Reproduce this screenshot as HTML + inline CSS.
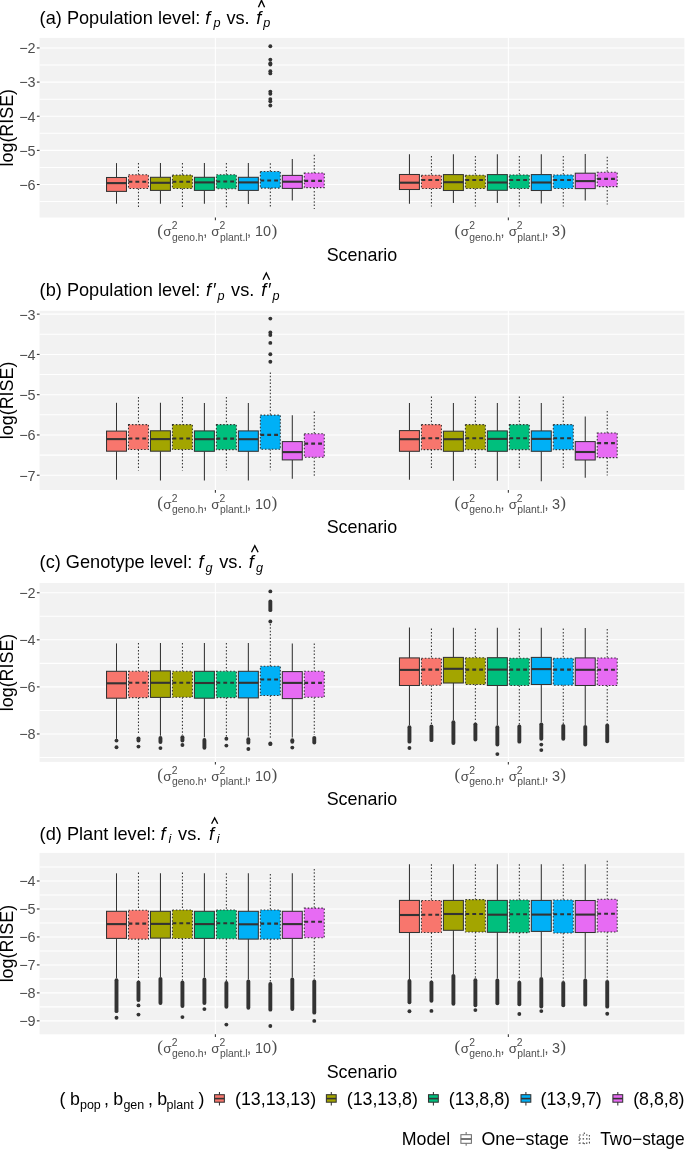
<!DOCTYPE html>
<html><head><meta charset="utf-8"><title>RISE boxplots</title>
<style>
html,body{margin:0;padding:0;background:#fff;}
body{width:685px;height:1149px;overflow:hidden;font-family:"Liberation Sans", sans-serif;}
svg{display:block;will-change:transform;}
</style></head>
<body>
<svg width="685" height="1149" viewBox="0 0 685 1149">
<rect x="0" y="0" width="685" height="1149" fill="#fff"/>
<g font-family="Liberation Sans, sans-serif" fill="#000">
<text x="39.6" y="23.85" font-size="18.2">(a) Population level:</text>
<text x="205.15" y="23.85" font-size="18.2" font-style="italic">f</text>
<text x="213.45" y="27.45" font-size="12.7" font-style="italic">p</text>
<text x="226.42" y="23.85" font-size="18.2">vs.</text>
<text x="256.25" y="23.85" font-size="18.2" font-style="italic">f</text>
<text x="263.15" y="27.45" font-size="12.7" font-style="italic">p</text>
<polyline points="258.4,7.25 261.5,0.35 264.6,7.25" fill="none" stroke="#000" stroke-width="1.35"/>
</g>
<rect x="39.55" y="37.9" width="644.85" height="179.6" fill="#F2F2F2"/>
<line x1="39.55" y1="65.02" x2="684.4" y2="65.02" stroke="#fff" stroke-width="1.07"/>
<line x1="39.55" y1="99.16" x2="684.4" y2="99.16" stroke="#fff" stroke-width="1.07"/>
<line x1="39.55" y1="133.3" x2="684.4" y2="133.3" stroke="#fff" stroke-width="1.07"/>
<line x1="39.55" y1="167.44" x2="684.4" y2="167.44" stroke="#fff" stroke-width="1.07"/>
<line x1="39.55" y1="201.58" x2="684.4" y2="201.58" stroke="#fff" stroke-width="1.07"/>
<line x1="39.55" y1="47.95" x2="684.4" y2="47.95" stroke="#fff" stroke-width="1.07"/>
<line x1="39.55" y1="82.09" x2="684.4" y2="82.09" stroke="#fff" stroke-width="1.07"/>
<line x1="39.55" y1="116.23" x2="684.4" y2="116.23" stroke="#fff" stroke-width="1.07"/>
<line x1="39.55" y1="150.37" x2="684.4" y2="150.37" stroke="#fff" stroke-width="1.07"/>
<line x1="39.55" y1="184.51" x2="684.4" y2="184.51" stroke="#fff" stroke-width="1.07"/>
<line x1="215.39" y1="37.9" x2="215.39" y2="217.5" stroke="#fff" stroke-width="1.07"/>
<line x1="508.34" y1="37.9" x2="508.34" y2="217.5" stroke="#fff" stroke-width="1.07"/>
<line x1="116.5" y1="163.1" x2="116.5" y2="177.5" stroke="#333333" stroke-width="1.05"/>
<line x1="116.5" y1="191.4" x2="116.5" y2="203.7" stroke="#333333" stroke-width="1.05"/>
<rect x="106.53" y="177.5" width="19.95" height="13.9" fill="#F8766D" stroke="#333333" stroke-width="1.05"/>
<line x1="106.53" y1="183.1" x2="126.47" y2="183.1" stroke="#333333" stroke-width="2.1"/>
<line x1="138.47" y1="163.1" x2="138.47" y2="174.8" stroke="#333333" stroke-width="1.05" stroke-dasharray="1.5 1.9"/>
<line x1="138.47" y1="188.4" x2="138.47" y2="207.2" stroke="#333333" stroke-width="1.05" stroke-dasharray="1.5 1.9"/>
<rect x="128.5" y="174.8" width="19.95" height="13.6" fill="#F8766D" stroke="#333333" stroke-width="1.05" stroke-dasharray="1.5 1.9"/>
<line x1="128.5" y1="181.8" x2="148.45" y2="181.8" stroke="#333333" stroke-width="2.1" stroke-dasharray="3.85 3.05"/>
<line x1="160.45" y1="163.1" x2="160.45" y2="177.3" stroke="#333333" stroke-width="1.05"/>
<line x1="160.45" y1="190.4" x2="160.45" y2="203.7" stroke="#333333" stroke-width="1.05"/>
<rect x="150.47" y="177.3" width="19.95" height="13.1" fill="#A3A500" stroke="#333333" stroke-width="1.05"/>
<line x1="150.47" y1="182.8" x2="170.42" y2="182.8" stroke="#333333" stroke-width="2.1"/>
<line x1="182.43" y1="163.1" x2="182.43" y2="175.1" stroke="#333333" stroke-width="1.05" stroke-dasharray="1.5 1.9"/>
<line x1="182.43" y1="188.4" x2="182.43" y2="207.2" stroke="#333333" stroke-width="1.05" stroke-dasharray="1.5 1.9"/>
<rect x="172.45" y="175.1" width="19.95" height="13.3" fill="#A3A500" stroke="#333333" stroke-width="1.05" stroke-dasharray="1.5 1.9"/>
<line x1="172.45" y1="181.8" x2="192.4" y2="181.8" stroke="#333333" stroke-width="2.1" stroke-dasharray="3.85 3.05"/>
<line x1="204.4" y1="163.1" x2="204.4" y2="177.3" stroke="#333333" stroke-width="1.05"/>
<line x1="204.4" y1="190.4" x2="204.4" y2="203.7" stroke="#333333" stroke-width="1.05"/>
<rect x="194.43" y="177.3" width="19.95" height="13.1" fill="#00BF7D" stroke="#333333" stroke-width="1.05"/>
<line x1="194.43" y1="182.4" x2="214.38" y2="182.4" stroke="#333333" stroke-width="2.1"/>
<line x1="226.38" y1="163.1" x2="226.38" y2="174.8" stroke="#333333" stroke-width="1.05" stroke-dasharray="1.5 1.9"/>
<line x1="226.38" y1="188.7" x2="226.38" y2="207.2" stroke="#333333" stroke-width="1.05" stroke-dasharray="1.5 1.9"/>
<rect x="216.4" y="174.8" width="19.95" height="13.9" fill="#00BF7D" stroke="#333333" stroke-width="1.05" stroke-dasharray="1.5 1.9"/>
<line x1="216.4" y1="181.5" x2="236.35" y2="181.5" stroke="#333333" stroke-width="2.1" stroke-dasharray="3.85 3.05"/>
<line x1="248.35" y1="163.1" x2="248.35" y2="177.3" stroke="#333333" stroke-width="1.05"/>
<line x1="248.35" y1="190.4" x2="248.35" y2="204" stroke="#333333" stroke-width="1.05"/>
<rect x="238.38" y="177.3" width="19.95" height="13.1" fill="#00B0F6" stroke="#333333" stroke-width="1.05"/>
<line x1="238.38" y1="182.4" x2="258.33" y2="182.4" stroke="#333333" stroke-width="2.1"/>
<line x1="270.33" y1="163.3" x2="270.33" y2="171.5" stroke="#333333" stroke-width="1.05" stroke-dasharray="1.5 1.9"/>
<line x1="270.33" y1="188.1" x2="270.33" y2="206.9" stroke="#333333" stroke-width="1.05" stroke-dasharray="1.5 1.9"/>
<rect x="260.35" y="171.5" width="19.95" height="16.6" fill="#00B0F6" stroke="#333333" stroke-width="1.05" stroke-dasharray="1.5 1.9"/>
<line x1="260.35" y1="180.5" x2="280.3" y2="180.5" stroke="#333333" stroke-width="2.1" stroke-dasharray="3.85 3.05"/>
<circle cx="270.33" cy="46.3" r="1.95" fill="#333333"/>
<circle cx="270.33" cy="59.6" r="1.95" fill="#333333"/>
<circle cx="270.33" cy="63.2" r="1.95" fill="#333333"/>
<circle cx="270.33" cy="64.5" r="1.95" fill="#333333"/>
<circle cx="270.33" cy="71.2" r="1.95" fill="#333333"/>
<circle cx="270.33" cy="73.4" r="1.95" fill="#333333"/>
<circle cx="270.33" cy="91.6" r="1.95" fill="#333333"/>
<circle cx="270.33" cy="93.8" r="1.95" fill="#333333"/>
<circle cx="270.33" cy="99.1" r="1.95" fill="#333333"/>
<circle cx="270.33" cy="101.3" r="1.95" fill="#333333"/>
<circle cx="270.33" cy="105.5" r="1.95" fill="#333333"/>
<line x1="292.3" y1="159.1" x2="292.3" y2="175.4" stroke="#333333" stroke-width="1.05"/>
<line x1="292.3" y1="188.4" x2="292.3" y2="200.5" stroke="#333333" stroke-width="1.05"/>
<rect x="282.32" y="175.4" width="19.95" height="13" fill="#E76BF3" stroke="#333333" stroke-width="1.05"/>
<line x1="282.32" y1="181.7" x2="302.28" y2="181.7" stroke="#333333" stroke-width="2.1"/>
<line x1="314.27" y1="154.7" x2="314.27" y2="173" stroke="#333333" stroke-width="1.05" stroke-dasharray="1.5 1.9"/>
<line x1="314.27" y1="187.6" x2="314.27" y2="209.1" stroke="#333333" stroke-width="1.05" stroke-dasharray="1.5 1.9"/>
<rect x="304.3" y="173" width="19.95" height="14.6" fill="#E76BF3" stroke="#333333" stroke-width="1.05" stroke-dasharray="1.5 1.9"/>
<line x1="304.3" y1="180.9" x2="324.25" y2="180.9" stroke="#333333" stroke-width="2.1" stroke-dasharray="3.85 3.05"/>
<line x1="409.45" y1="154.2" x2="409.45" y2="174.5" stroke="#333333" stroke-width="1.05"/>
<line x1="409.45" y1="189.5" x2="409.45" y2="203.8" stroke="#333333" stroke-width="1.05"/>
<rect x="399.47" y="174.5" width="19.95" height="15" fill="#F8766D" stroke="#333333" stroke-width="1.05"/>
<line x1="399.47" y1="182.7" x2="419.43" y2="182.7" stroke="#333333" stroke-width="2.1"/>
<line x1="431.43" y1="155.9" x2="431.43" y2="175.2" stroke="#333333" stroke-width="1.05" stroke-dasharray="1.5 1.9"/>
<line x1="431.43" y1="188.5" x2="431.43" y2="206.6" stroke="#333333" stroke-width="1.05" stroke-dasharray="1.5 1.9"/>
<rect x="421.45" y="175.2" width="19.95" height="13.3" fill="#F8766D" stroke="#333333" stroke-width="1.05" stroke-dasharray="1.5 1.9"/>
<line x1="421.45" y1="180" x2="441.4" y2="180" stroke="#333333" stroke-width="2.1" stroke-dasharray="3.85 3.05"/>
<line x1="453.4" y1="154.2" x2="453.4" y2="174.6" stroke="#333333" stroke-width="1.05"/>
<line x1="453.4" y1="190.5" x2="453.4" y2="203" stroke="#333333" stroke-width="1.05"/>
<rect x="443.42" y="174.6" width="19.95" height="15.9" fill="#A3A500" stroke="#333333" stroke-width="1.05"/>
<line x1="443.42" y1="182.2" x2="463.38" y2="182.2" stroke="#333333" stroke-width="2.1"/>
<line x1="475.38" y1="156" x2="475.38" y2="175.2" stroke="#333333" stroke-width="1.05" stroke-dasharray="1.5 1.9"/>
<line x1="475.38" y1="188.5" x2="475.38" y2="206.6" stroke="#333333" stroke-width="1.05" stroke-dasharray="1.5 1.9"/>
<rect x="465.4" y="175.2" width="19.95" height="13.3" fill="#A3A500" stroke="#333333" stroke-width="1.05" stroke-dasharray="1.5 1.9"/>
<line x1="465.4" y1="180" x2="485.35" y2="180" stroke="#333333" stroke-width="2.1" stroke-dasharray="3.85 3.05"/>
<line x1="497.35" y1="154.2" x2="497.35" y2="174.6" stroke="#333333" stroke-width="1.05"/>
<line x1="497.35" y1="190.3" x2="497.35" y2="203" stroke="#333333" stroke-width="1.05"/>
<rect x="487.38" y="174.6" width="19.95" height="15.7" fill="#00BF7D" stroke="#333333" stroke-width="1.05"/>
<line x1="487.38" y1="182.5" x2="507.33" y2="182.5" stroke="#333333" stroke-width="2.1"/>
<line x1="519.33" y1="156" x2="519.33" y2="174.9" stroke="#333333" stroke-width="1.05" stroke-dasharray="1.5 1.9"/>
<line x1="519.33" y1="188.5" x2="519.33" y2="206.6" stroke="#333333" stroke-width="1.05" stroke-dasharray="1.5 1.9"/>
<rect x="509.35" y="174.9" width="19.95" height="13.6" fill="#00BF7D" stroke="#333333" stroke-width="1.05" stroke-dasharray="1.5 1.9"/>
<line x1="509.35" y1="180" x2="529.3" y2="180" stroke="#333333" stroke-width="2.1" stroke-dasharray="3.85 3.05"/>
<line x1="541.3" y1="154.2" x2="541.3" y2="174.6" stroke="#333333" stroke-width="1.05"/>
<line x1="541.3" y1="190.5" x2="541.3" y2="203.4" stroke="#333333" stroke-width="1.05"/>
<rect x="531.32" y="174.6" width="19.95" height="15.9" fill="#00B0F6" stroke="#333333" stroke-width="1.05"/>
<line x1="531.32" y1="182.5" x2="551.27" y2="182.5" stroke="#333333" stroke-width="2.1"/>
<line x1="563.27" y1="156" x2="563.27" y2="174.9" stroke="#333333" stroke-width="1.05" stroke-dasharray="1.5 1.9"/>
<line x1="563.27" y1="188.5" x2="563.27" y2="206.6" stroke="#333333" stroke-width="1.05" stroke-dasharray="1.5 1.9"/>
<rect x="553.3" y="174.9" width="19.95" height="13.6" fill="#00B0F6" stroke="#333333" stroke-width="1.05" stroke-dasharray="1.5 1.9"/>
<line x1="553.3" y1="180" x2="573.25" y2="180" stroke="#333333" stroke-width="2.1" stroke-dasharray="3.85 3.05"/>
<line x1="585.25" y1="154.1" x2="585.25" y2="173.2" stroke="#333333" stroke-width="1.05"/>
<line x1="585.25" y1="188.6" x2="585.25" y2="200.5" stroke="#333333" stroke-width="1.05"/>
<rect x="575.27" y="173.2" width="19.95" height="15.4" fill="#E76BF3" stroke="#333333" stroke-width="1.05"/>
<line x1="575.27" y1="181.1" x2="595.23" y2="181.1" stroke="#333333" stroke-width="2.1"/>
<line x1="607.23" y1="156.7" x2="607.23" y2="172.3" stroke="#333333" stroke-width="1.05" stroke-dasharray="1.5 1.9"/>
<line x1="607.23" y1="186.6" x2="607.23" y2="204.6" stroke="#333333" stroke-width="1.05" stroke-dasharray="1.5 1.9"/>
<rect x="597.25" y="172.3" width="19.95" height="14.3" fill="#E76BF3" stroke="#333333" stroke-width="1.05" stroke-dasharray="1.5 1.9"/>
<line x1="597.25" y1="178.9" x2="617.2" y2="178.9" stroke="#333333" stroke-width="2.1" stroke-dasharray="3.85 3.05"/>
<line x1="36.9" y1="47.95" x2="39.55" y2="47.95" stroke="#333333" stroke-width="1.07"/>
<text x="35.6" y="53.35" text-anchor="end" font-family="Liberation Sans, sans-serif" font-size="14.4" fill="#4D4D4D">−2</text>
<line x1="36.9" y1="82.09" x2="39.55" y2="82.09" stroke="#333333" stroke-width="1.07"/>
<text x="35.6" y="87.49" text-anchor="end" font-family="Liberation Sans, sans-serif" font-size="14.4" fill="#4D4D4D">−3</text>
<line x1="36.9" y1="116.23" x2="39.55" y2="116.23" stroke="#333333" stroke-width="1.07"/>
<text x="35.6" y="121.63" text-anchor="end" font-family="Liberation Sans, sans-serif" font-size="14.4" fill="#4D4D4D">−4</text>
<line x1="36.9" y1="150.37" x2="39.55" y2="150.37" stroke="#333333" stroke-width="1.07"/>
<text x="35.6" y="155.77" text-anchor="end" font-family="Liberation Sans, sans-serif" font-size="14.4" fill="#4D4D4D">−5</text>
<line x1="36.9" y1="184.51" x2="39.55" y2="184.51" stroke="#333333" stroke-width="1.07"/>
<text x="35.6" y="189.91" text-anchor="end" font-family="Liberation Sans, sans-serif" font-size="14.4" fill="#4D4D4D">−6</text>
<line x1="215.39" y1="217.5" x2="215.39" y2="220.2" stroke="#333333" stroke-width="1.07"/>
<line x1="508.34" y1="217.5" x2="508.34" y2="220.2" stroke="#333333" stroke-width="1.07"/>
<g fill="#4D4D4D" font-family="Liberation Sans, sans-serif">
<text x="157.3" y="235.5" font-family="Liberation Serif, serif" font-size="17.2">(</text>
<text x="163.35" y="236.2" font-size="13.4">σ</text>
<text x="171.87" y="229.2" font-size="10.35">2</text>
<text x="171.97" y="240.5" font-size="10.35">geno.h</text>
<text x="203.19" y="236" font-size="14.4">,</text>
<text x="211.35" y="236.2" font-size="13.4">σ</text>
<text x="219.47" y="229.2" font-size="10.35">2</text>
<text x="219.97" y="240.5" font-size="10.35">plant.l</text>
<text x="247.09" y="236" font-size="14.4">,</text>
<text x="254.94" y="236.2" font-size="14.4">10</text>
<text x="271.47" y="235.5" font-family="Liberation Serif, serif" font-size="17.2">)</text>
</g>
<g fill="#4D4D4D" font-family="Liberation Sans, sans-serif">
<text x="454.6" y="235.5" font-family="Liberation Serif, serif" font-size="17.2">(</text>
<text x="460.65" y="236.2" font-size="13.4">σ</text>
<text x="469.17" y="229.2" font-size="10.35">2</text>
<text x="469.27" y="240.5" font-size="10.35">geno.h</text>
<text x="500.49" y="236" font-size="14.4">,</text>
<text x="508.65" y="236.2" font-size="13.4">σ</text>
<text x="516.77" y="229.2" font-size="10.35">2</text>
<text x="517.27" y="240.5" font-size="10.35">plant.l</text>
<text x="544.39" y="236" font-size="14.4">,</text>
<text x="552.06" y="236.2" font-size="14.4">3</text>
<text x="560.32" y="235.5" font-family="Liberation Serif, serif" font-size="17.2">)</text>
</g>
<text x="361.97" y="260.75" text-anchor="middle" font-family="Liberation Sans, sans-serif" font-size="17.9" fill="#000">Scenario</text>
<text transform="translate(13.1,127.7) rotate(-90)" x="0" y="0" text-anchor="middle" font-family="Liberation Sans, sans-serif" font-size="17.9" fill="#000">log(RISE)</text>
<g font-family="Liberation Sans, sans-serif" fill="#000">
<text x="39.6" y="295.6" font-size="18.2">(b) Population level:</text>
<text x="206.05" y="295.6" font-size="18.2" font-style="italic">f</text>
<text x="212.16" y="295.9" font-size="18.2" font-style="italic">′</text>
<text x="217.55" y="299.9" font-size="12.7" font-style="italic">p</text>
<text x="231.12" y="295.6" font-size="18.2">vs.</text>
<text x="261.25" y="295.6" font-size="18.2" font-style="italic">f</text>
<text x="267.36" y="295.9" font-size="18.2" font-style="italic">′</text>
<text x="272.55" y="299.9" font-size="12.7" font-style="italic">p</text>
<polyline points="263,279.7 266.3,273 269.6,279.7" fill="none" stroke="#000" stroke-width="1.35"/>
</g>
<rect x="39.55" y="310.8" width="644.85" height="179.2" fill="#F2F2F2"/>
<line x1="39.55" y1="334.27" x2="684.4" y2="334.27" stroke="#fff" stroke-width="1.07"/>
<line x1="39.55" y1="374.54" x2="684.4" y2="374.54" stroke="#fff" stroke-width="1.07"/>
<line x1="39.55" y1="414.81" x2="684.4" y2="414.81" stroke="#fff" stroke-width="1.07"/>
<line x1="39.55" y1="455.09" x2="684.4" y2="455.09" stroke="#fff" stroke-width="1.07"/>
<line x1="39.55" y1="314.14" x2="684.4" y2="314.14" stroke="#fff" stroke-width="1.07"/>
<line x1="39.55" y1="354.41" x2="684.4" y2="354.41" stroke="#fff" stroke-width="1.07"/>
<line x1="39.55" y1="394.68" x2="684.4" y2="394.68" stroke="#fff" stroke-width="1.07"/>
<line x1="39.55" y1="434.95" x2="684.4" y2="434.95" stroke="#fff" stroke-width="1.07"/>
<line x1="39.55" y1="475.22" x2="684.4" y2="475.22" stroke="#fff" stroke-width="1.07"/>
<line x1="215.39" y1="310.8" x2="215.39" y2="490.0" stroke="#fff" stroke-width="1.07"/>
<line x1="508.34" y1="310.8" x2="508.34" y2="490.0" stroke="#fff" stroke-width="1.07"/>
<line x1="116.5" y1="402.8" x2="116.5" y2="431.1" stroke="#333333" stroke-width="1.05"/>
<line x1="116.5" y1="451.2" x2="116.5" y2="479.7" stroke="#333333" stroke-width="1.05"/>
<rect x="106.53" y="431.1" width="19.95" height="20.1" fill="#F8766D" stroke="#333333" stroke-width="1.05"/>
<line x1="106.53" y1="439.1" x2="126.47" y2="439.1" stroke="#333333" stroke-width="2.1"/>
<line x1="138.47" y1="396.9" x2="138.47" y2="424.6" stroke="#333333" stroke-width="1.05" stroke-dasharray="1.5 1.9"/>
<line x1="138.47" y1="449.5" x2="138.47" y2="470.6" stroke="#333333" stroke-width="1.05" stroke-dasharray="1.5 1.9"/>
<rect x="128.5" y="424.6" width="19.95" height="24.9" fill="#F8766D" stroke="#333333" stroke-width="1.05" stroke-dasharray="1.5 1.9"/>
<line x1="128.5" y1="438.5" x2="148.45" y2="438.5" stroke="#333333" stroke-width="2.1" stroke-dasharray="3.85 3.05"/>
<line x1="160.45" y1="402.8" x2="160.45" y2="430.8" stroke="#333333" stroke-width="1.05"/>
<line x1="160.45" y1="451.2" x2="160.45" y2="480.4" stroke="#333333" stroke-width="1.05"/>
<rect x="150.47" y="430.8" width="19.95" height="20.4" fill="#A3A500" stroke="#333333" stroke-width="1.05"/>
<line x1="150.47" y1="439.1" x2="170.42" y2="439.1" stroke="#333333" stroke-width="2.1"/>
<line x1="182.43" y1="396.9" x2="182.43" y2="424.6" stroke="#333333" stroke-width="1.05" stroke-dasharray="1.5 1.9"/>
<line x1="182.43" y1="449.5" x2="182.43" y2="470.6" stroke="#333333" stroke-width="1.05" stroke-dasharray="1.5 1.9"/>
<rect x="172.45" y="424.6" width="19.95" height="24.9" fill="#A3A500" stroke="#333333" stroke-width="1.05" stroke-dasharray="1.5 1.9"/>
<line x1="172.45" y1="438.5" x2="192.4" y2="438.5" stroke="#333333" stroke-width="2.1" stroke-dasharray="3.85 3.05"/>
<line x1="204.4" y1="403.1" x2="204.4" y2="430.9" stroke="#333333" stroke-width="1.05"/>
<line x1="204.4" y1="451.3" x2="204.4" y2="480.5" stroke="#333333" stroke-width="1.05"/>
<rect x="194.43" y="430.9" width="19.95" height="20.4" fill="#00BF7D" stroke="#333333" stroke-width="1.05"/>
<line x1="194.43" y1="439.2" x2="214.38" y2="439.2" stroke="#333333" stroke-width="2.1"/>
<line x1="226.38" y1="397" x2="226.38" y2="424.6" stroke="#333333" stroke-width="1.05" stroke-dasharray="1.5 1.9"/>
<line x1="226.38" y1="449.6" x2="226.38" y2="470.3" stroke="#333333" stroke-width="1.05" stroke-dasharray="1.5 1.9"/>
<rect x="216.4" y="424.6" width="19.95" height="25" fill="#00BF7D" stroke="#333333" stroke-width="1.05" stroke-dasharray="1.5 1.9"/>
<line x1="216.4" y1="438.6" x2="236.35" y2="438.6" stroke="#333333" stroke-width="2.1" stroke-dasharray="3.85 3.05"/>
<line x1="248.35" y1="403.1" x2="248.35" y2="430.9" stroke="#333333" stroke-width="1.05"/>
<line x1="248.35" y1="451.3" x2="248.35" y2="480.5" stroke="#333333" stroke-width="1.05"/>
<rect x="238.38" y="430.9" width="19.95" height="20.4" fill="#00B0F6" stroke="#333333" stroke-width="1.05"/>
<line x1="238.38" y1="439.2" x2="258.33" y2="439.2" stroke="#333333" stroke-width="2.1"/>
<line x1="270.33" y1="372.4" x2="270.33" y2="415.1" stroke="#333333" stroke-width="1.05" stroke-dasharray="1.5 1.9"/>
<line x1="270.33" y1="449.3" x2="270.33" y2="470.2" stroke="#333333" stroke-width="1.05" stroke-dasharray="1.5 1.9"/>
<rect x="260.35" y="415.1" width="19.95" height="34.2" fill="#00B0F6" stroke="#333333" stroke-width="1.05" stroke-dasharray="1.5 1.9"/>
<line x1="260.35" y1="434.9" x2="280.3" y2="434.9" stroke="#333333" stroke-width="2.1" stroke-dasharray="3.85 3.05"/>
<circle cx="270.33" cy="318.6" r="1.95" fill="#333333"/>
<circle cx="270.33" cy="332.5" r="1.95" fill="#333333"/>
<circle cx="270.33" cy="335" r="1.95" fill="#333333"/>
<circle cx="270.33" cy="342.9" r="1.95" fill="#333333"/>
<circle cx="270.33" cy="354.2" r="1.95" fill="#333333"/>
<circle cx="270.33" cy="361.7" r="1.95" fill="#333333"/>
<line x1="292.3" y1="415.3" x2="292.3" y2="441.6" stroke="#333333" stroke-width="1.05"/>
<line x1="292.3" y1="459.9" x2="292.3" y2="478.7" stroke="#333333" stroke-width="1.05"/>
<rect x="282.32" y="441.6" width="19.95" height="18.3" fill="#E76BF3" stroke="#333333" stroke-width="1.05"/>
<line x1="282.32" y1="452.1" x2="302.28" y2="452.1" stroke="#333333" stroke-width="2.1"/>
<line x1="314.27" y1="411.5" x2="314.27" y2="433.8" stroke="#333333" stroke-width="1.05" stroke-dasharray="1.5 1.9"/>
<line x1="314.27" y1="457.3" x2="314.27" y2="475.8" stroke="#333333" stroke-width="1.05" stroke-dasharray="1.5 1.9"/>
<rect x="304.3" y="433.8" width="19.95" height="23.5" fill="#E76BF3" stroke="#333333" stroke-width="1.05" stroke-dasharray="1.5 1.9"/>
<line x1="304.3" y1="443.6" x2="324.25" y2="443.6" stroke="#333333" stroke-width="2.1" stroke-dasharray="3.85 3.05"/>
<line x1="409.45" y1="403.1" x2="409.45" y2="430.6" stroke="#333333" stroke-width="1.05"/>
<line x1="409.45" y1="451.3" x2="409.45" y2="479.8" stroke="#333333" stroke-width="1.05"/>
<rect x="399.47" y="430.6" width="19.95" height="20.7" fill="#F8766D" stroke="#333333" stroke-width="1.05"/>
<line x1="399.47" y1="439.2" x2="419.43" y2="439.2" stroke="#333333" stroke-width="2.1"/>
<line x1="431.43" y1="396.6" x2="431.43" y2="424.6" stroke="#333333" stroke-width="1.05" stroke-dasharray="1.5 1.9"/>
<line x1="431.43" y1="449.6" x2="431.43" y2="468.1" stroke="#333333" stroke-width="1.05" stroke-dasharray="1.5 1.9"/>
<rect x="421.45" y="424.6" width="19.95" height="25" fill="#F8766D" stroke="#333333" stroke-width="1.05" stroke-dasharray="1.5 1.9"/>
<line x1="421.45" y1="438.2" x2="441.4" y2="438.2" stroke="#333333" stroke-width="2.1" stroke-dasharray="3.85 3.05"/>
<line x1="453.4" y1="403.1" x2="453.4" y2="431.2" stroke="#333333" stroke-width="1.05"/>
<line x1="453.4" y1="451.3" x2="453.4" y2="480.8" stroke="#333333" stroke-width="1.05"/>
<rect x="443.42" y="431.2" width="19.95" height="20.1" fill="#A3A500" stroke="#333333" stroke-width="1.05"/>
<line x1="443.42" y1="439.2" x2="463.38" y2="439.2" stroke="#333333" stroke-width="2.1"/>
<line x1="475.38" y1="396.6" x2="475.38" y2="424.6" stroke="#333333" stroke-width="1.05" stroke-dasharray="1.5 1.9"/>
<line x1="475.38" y1="449.6" x2="475.38" y2="468.1" stroke="#333333" stroke-width="1.05" stroke-dasharray="1.5 1.9"/>
<rect x="465.4" y="424.6" width="19.95" height="25" fill="#A3A500" stroke="#333333" stroke-width="1.05" stroke-dasharray="1.5 1.9"/>
<line x1="465.4" y1="438.2" x2="485.35" y2="438.2" stroke="#333333" stroke-width="2.1" stroke-dasharray="3.85 3.05"/>
<line x1="497.35" y1="403.1" x2="497.35" y2="430.9" stroke="#333333" stroke-width="1.05"/>
<line x1="497.35" y1="451.3" x2="497.35" y2="480.8" stroke="#333333" stroke-width="1.05"/>
<rect x="487.38" y="430.9" width="19.95" height="20.4" fill="#00BF7D" stroke="#333333" stroke-width="1.05"/>
<line x1="487.38" y1="438.9" x2="507.33" y2="438.9" stroke="#333333" stroke-width="2.1"/>
<line x1="519.33" y1="396.6" x2="519.33" y2="424.6" stroke="#333333" stroke-width="1.05" stroke-dasharray="1.5 1.9"/>
<line x1="519.33" y1="449.6" x2="519.33" y2="468.1" stroke="#333333" stroke-width="1.05" stroke-dasharray="1.5 1.9"/>
<rect x="509.35" y="424.6" width="19.95" height="25" fill="#00BF7D" stroke="#333333" stroke-width="1.05" stroke-dasharray="1.5 1.9"/>
<line x1="509.35" y1="438.2" x2="529.3" y2="438.2" stroke="#333333" stroke-width="2.1" stroke-dasharray="3.85 3.05"/>
<line x1="541.3" y1="403.1" x2="541.3" y2="430.9" stroke="#333333" stroke-width="1.05"/>
<line x1="541.3" y1="451.3" x2="541.3" y2="481.2" stroke="#333333" stroke-width="1.05"/>
<rect x="531.32" y="430.9" width="19.95" height="20.4" fill="#00B0F6" stroke="#333333" stroke-width="1.05"/>
<line x1="531.32" y1="438.9" x2="551.27" y2="438.9" stroke="#333333" stroke-width="2.1"/>
<line x1="563.27" y1="396.6" x2="563.27" y2="424.6" stroke="#333333" stroke-width="1.05" stroke-dasharray="1.5 1.9"/>
<line x1="563.27" y1="449.6" x2="563.27" y2="468.1" stroke="#333333" stroke-width="1.05" stroke-dasharray="1.5 1.9"/>
<rect x="553.3" y="424.6" width="19.95" height="25" fill="#00B0F6" stroke="#333333" stroke-width="1.05" stroke-dasharray="1.5 1.9"/>
<line x1="553.3" y1="438.2" x2="573.25" y2="438.2" stroke="#333333" stroke-width="2.1" stroke-dasharray="3.85 3.05"/>
<line x1="585.25" y1="416.4" x2="585.25" y2="441.6" stroke="#333333" stroke-width="1.05"/>
<line x1="585.25" y1="460" x2="585.25" y2="477.7" stroke="#333333" stroke-width="1.05"/>
<rect x="575.27" y="441.6" width="19.95" height="18.4" fill="#E76BF3" stroke="#333333" stroke-width="1.05"/>
<line x1="575.27" y1="452" x2="595.23" y2="452" stroke="#333333" stroke-width="2.1"/>
<line x1="607.23" y1="411" x2="607.23" y2="432.9" stroke="#333333" stroke-width="1.05" stroke-dasharray="1.5 1.9"/>
<line x1="607.23" y1="457.6" x2="607.23" y2="475.6" stroke="#333333" stroke-width="1.05" stroke-dasharray="1.5 1.9"/>
<rect x="597.25" y="432.9" width="19.95" height="24.7" fill="#E76BF3" stroke="#333333" stroke-width="1.05" stroke-dasharray="1.5 1.9"/>
<line x1="597.25" y1="443.1" x2="617.2" y2="443.1" stroke="#333333" stroke-width="2.1" stroke-dasharray="3.85 3.05"/>
<line x1="36.9" y1="314.14" x2="39.55" y2="314.14" stroke="#333333" stroke-width="1.07"/>
<text x="35.6" y="319.54" text-anchor="end" font-family="Liberation Sans, sans-serif" font-size="14.4" fill="#4D4D4D">−3</text>
<line x1="36.9" y1="354.41" x2="39.55" y2="354.41" stroke="#333333" stroke-width="1.07"/>
<text x="35.6" y="359.81" text-anchor="end" font-family="Liberation Sans, sans-serif" font-size="14.4" fill="#4D4D4D">−4</text>
<line x1="36.9" y1="394.68" x2="39.55" y2="394.68" stroke="#333333" stroke-width="1.07"/>
<text x="35.6" y="400.08" text-anchor="end" font-family="Liberation Sans, sans-serif" font-size="14.4" fill="#4D4D4D">−5</text>
<line x1="36.9" y1="434.95" x2="39.55" y2="434.95" stroke="#333333" stroke-width="1.07"/>
<text x="35.6" y="440.35" text-anchor="end" font-family="Liberation Sans, sans-serif" font-size="14.4" fill="#4D4D4D">−6</text>
<line x1="36.9" y1="475.22" x2="39.55" y2="475.22" stroke="#333333" stroke-width="1.07"/>
<text x="35.6" y="480.62" text-anchor="end" font-family="Liberation Sans, sans-serif" font-size="14.4" fill="#4D4D4D">−7</text>
<line x1="215.39" y1="490.0" x2="215.39" y2="492.7" stroke="#333333" stroke-width="1.07"/>
<line x1="508.34" y1="490.0" x2="508.34" y2="492.7" stroke="#333333" stroke-width="1.07"/>
<g fill="#4D4D4D" font-family="Liberation Sans, sans-serif">
<text x="157.3" y="508" font-family="Liberation Serif, serif" font-size="17.2">(</text>
<text x="163.35" y="508.7" font-size="13.4">σ</text>
<text x="171.87" y="501.7" font-size="10.35">2</text>
<text x="171.97" y="513" font-size="10.35">geno.h</text>
<text x="203.19" y="508.5" font-size="14.4">,</text>
<text x="211.35" y="508.7" font-size="13.4">σ</text>
<text x="219.47" y="501.7" font-size="10.35">2</text>
<text x="219.97" y="513" font-size="10.35">plant.l</text>
<text x="247.09" y="508.5" font-size="14.4">,</text>
<text x="254.94" y="508.7" font-size="14.4">10</text>
<text x="271.47" y="508" font-family="Liberation Serif, serif" font-size="17.2">)</text>
</g>
<g fill="#4D4D4D" font-family="Liberation Sans, sans-serif">
<text x="454.6" y="508" font-family="Liberation Serif, serif" font-size="17.2">(</text>
<text x="460.65" y="508.7" font-size="13.4">σ</text>
<text x="469.17" y="501.7" font-size="10.35">2</text>
<text x="469.27" y="513" font-size="10.35">geno.h</text>
<text x="500.49" y="508.5" font-size="14.4">,</text>
<text x="508.65" y="508.7" font-size="13.4">σ</text>
<text x="516.77" y="501.7" font-size="10.35">2</text>
<text x="517.27" y="513" font-size="10.35">plant.l</text>
<text x="544.39" y="508.5" font-size="14.4">,</text>
<text x="552.06" y="508.7" font-size="14.4">3</text>
<text x="560.32" y="508" font-family="Liberation Serif, serif" font-size="17.2">)</text>
</g>
<text x="361.97" y="533.25" text-anchor="middle" font-family="Liberation Sans, sans-serif" font-size="17.9" fill="#000">Scenario</text>
<text transform="translate(13.1,400.4) rotate(-90)" x="0" y="0" text-anchor="middle" font-family="Liberation Sans, sans-serif" font-size="17.9" fill="#000">log(RISE)</text>
<g font-family="Liberation Sans, sans-serif" fill="#000">
<text x="39.6" y="567.9" font-size="18.2">(c) Genotype level:</text>
<text x="198.45" y="567.9" font-size="18.2" font-style="italic">f</text>
<text x="205.5" y="571.5" font-size="12.7" font-style="italic">g</text>
<text x="219.22" y="567.9" font-size="18.2">vs.</text>
<text x="248.75" y="567.9" font-size="18.2" font-style="italic">f</text>
<text x="255.9" y="571.5" font-size="12.7" font-style="italic">g</text>
<polyline points="251.5,552.3 254.8,545.7 258.1,552.3" fill="none" stroke="#000" stroke-width="1.35"/>
</g>
<rect x="39.55" y="583.0" width="644.85" height="178.9" fill="#F2F2F2"/>
<line x1="39.55" y1="616.29" x2="684.4" y2="616.29" stroke="#fff" stroke-width="1.07"/>
<line x1="39.55" y1="663.36" x2="684.4" y2="663.36" stroke="#fff" stroke-width="1.07"/>
<line x1="39.55" y1="710.43" x2="684.4" y2="710.43" stroke="#fff" stroke-width="1.07"/>
<line x1="39.55" y1="757.5" x2="684.4" y2="757.5" stroke="#fff" stroke-width="1.07"/>
<line x1="39.55" y1="592.75" x2="684.4" y2="592.75" stroke="#fff" stroke-width="1.07"/>
<line x1="39.55" y1="639.82" x2="684.4" y2="639.82" stroke="#fff" stroke-width="1.07"/>
<line x1="39.55" y1="686.89" x2="684.4" y2="686.89" stroke="#fff" stroke-width="1.07"/>
<line x1="39.55" y1="733.97" x2="684.4" y2="733.97" stroke="#fff" stroke-width="1.07"/>
<line x1="215.39" y1="583.0" x2="215.39" y2="761.9" stroke="#fff" stroke-width="1.07"/>
<line x1="508.34" y1="583.0" x2="508.34" y2="761.9" stroke="#fff" stroke-width="1.07"/>
<line x1="116.5" y1="643.4" x2="116.5" y2="671.3" stroke="#333333" stroke-width="1.05"/>
<line x1="116.5" y1="698.2" x2="116.5" y2="738.9" stroke="#333333" stroke-width="1.05"/>
<rect x="106.53" y="671.3" width="19.95" height="26.9" fill="#F8766D" stroke="#333333" stroke-width="1.05"/>
<line x1="106.53" y1="683.3" x2="126.47" y2="683.3" stroke="#333333" stroke-width="2.1"/>
<circle cx="116.5" cy="740.6" r="1.95" fill="#333333"/>
<circle cx="116.5" cy="747.3" r="1.95" fill="#333333"/>
<line x1="138.47" y1="643.1" x2="138.47" y2="671.3" stroke="#333333" stroke-width="1.05" stroke-dasharray="1.5 1.9"/>
<line x1="138.47" y1="697.6" x2="138.47" y2="735.1" stroke="#333333" stroke-width="1.05" stroke-dasharray="1.5 1.9"/>
<rect x="128.5" y="671.3" width="19.95" height="26.3" fill="#F8766D" stroke="#333333" stroke-width="1.05" stroke-dasharray="1.5 1.9"/>
<line x1="128.5" y1="682.8" x2="148.45" y2="682.8" stroke="#333333" stroke-width="2.1" stroke-dasharray="3.85 3.05"/>
<line x1="138.47" y1="738.35" x2="138.47" y2="740.55" stroke="#333333" stroke-width="3.9" stroke-linecap="round"/>
<circle cx="138.47" cy="746.6" r="1.95" fill="#333333"/>
<line x1="160.45" y1="643.1" x2="160.45" y2="670.9" stroke="#333333" stroke-width="1.05"/>
<line x1="160.45" y1="697.4" x2="160.45" y2="735.8" stroke="#333333" stroke-width="1.05"/>
<rect x="150.47" y="670.9" width="19.95" height="26.5" fill="#A3A500" stroke="#333333" stroke-width="1.05"/>
<line x1="150.47" y1="682.8" x2="170.42" y2="682.8" stroke="#333333" stroke-width="2.1"/>
<line x1="160.45" y1="737.95" x2="160.45" y2="742.05" stroke="#333333" stroke-width="3.9" stroke-linecap="round"/>
<circle cx="160.45" cy="748.1" r="1.95" fill="#333333"/>
<line x1="182.43" y1="643.1" x2="182.43" y2="671.3" stroke="#333333" stroke-width="1.05" stroke-dasharray="1.5 1.9"/>
<line x1="182.43" y1="697.2" x2="182.43" y2="735.1" stroke="#333333" stroke-width="1.05" stroke-dasharray="1.5 1.9"/>
<rect x="172.45" y="671.3" width="19.95" height="25.9" fill="#A3A500" stroke="#333333" stroke-width="1.05" stroke-dasharray="1.5 1.9"/>
<line x1="172.45" y1="682.8" x2="192.4" y2="682.8" stroke="#333333" stroke-width="2.1" stroke-dasharray="3.85 3.05"/>
<line x1="182.43" y1="737.15" x2="182.43" y2="740.55" stroke="#333333" stroke-width="3.9" stroke-linecap="round"/>
<circle cx="182.43" cy="745" r="1.95" fill="#333333"/>
<line x1="204.4" y1="643.1" x2="204.4" y2="671.3" stroke="#333333" stroke-width="1.05"/>
<line x1="204.4" y1="698.2" x2="204.4" y2="737.3" stroke="#333333" stroke-width="1.05"/>
<rect x="194.43" y="671.3" width="19.95" height="26.9" fill="#00BF7D" stroke="#333333" stroke-width="1.05"/>
<line x1="194.43" y1="683" x2="214.38" y2="683" stroke="#333333" stroke-width="2.1"/>
<line x1="204.4" y1="739.95" x2="204.4" y2="747.75" stroke="#333333" stroke-width="3.9" stroke-linecap="round"/>
<line x1="226.38" y1="643.1" x2="226.38" y2="671.3" stroke="#333333" stroke-width="1.05" stroke-dasharray="1.5 1.9"/>
<line x1="226.38" y1="697.6" x2="226.38" y2="736.6" stroke="#333333" stroke-width="1.05" stroke-dasharray="1.5 1.9"/>
<rect x="216.4" y="671.3" width="19.95" height="26.3" fill="#00BF7D" stroke="#333333" stroke-width="1.05" stroke-dasharray="1.5 1.9"/>
<line x1="216.4" y1="682.8" x2="236.35" y2="682.8" stroke="#333333" stroke-width="2.1" stroke-dasharray="3.85 3.05"/>
<circle cx="226.38" cy="738.8" r="1.95" fill="#333333"/>
<circle cx="226.38" cy="745.6" r="1.95" fill="#333333"/>
<line x1="248.35" y1="643.1" x2="248.35" y2="671.3" stroke="#333333" stroke-width="1.05"/>
<line x1="248.35" y1="697.9" x2="248.35" y2="736.6" stroke="#333333" stroke-width="1.05"/>
<rect x="238.38" y="671.3" width="19.95" height="26.6" fill="#00B0F6" stroke="#333333" stroke-width="1.05"/>
<line x1="238.38" y1="682.8" x2="258.33" y2="682.8" stroke="#333333" stroke-width="2.1"/>
<line x1="248.35" y1="739.25" x2="248.35" y2="742.65" stroke="#333333" stroke-width="3.9" stroke-linecap="round"/>
<circle cx="248.35" cy="749" r="1.95" fill="#333333"/>
<line x1="270.33" y1="623.9" x2="270.33" y2="666.2" stroke="#333333" stroke-width="1.05" stroke-dasharray="1.5 1.9"/>
<line x1="270.33" y1="695.5" x2="270.33" y2="739.8" stroke="#333333" stroke-width="1.05" stroke-dasharray="1.5 1.9"/>
<rect x="260.35" y="666.2" width="19.95" height="29.3" fill="#00B0F6" stroke="#333333" stroke-width="1.05" stroke-dasharray="1.5 1.9"/>
<line x1="260.35" y1="679.5" x2="280.3" y2="679.5" stroke="#333333" stroke-width="2.1" stroke-dasharray="3.85 3.05"/>
<circle cx="270.33" cy="591.4" r="1.95" fill="#333333"/>
<line x1="270.33" y1="601.55" x2="270.33" y2="610.15" stroke="#333333" stroke-width="3.9" stroke-linecap="round"/>
<circle cx="270.33" cy="621.5" r="1.95" fill="#333333"/>
<line x1="270.33" y1="743.35" x2="270.33" y2="744.15" stroke="#333333" stroke-width="3.9" stroke-linecap="round"/>
<line x1="292.3" y1="643.4" x2="292.3" y2="671.6" stroke="#333333" stroke-width="1.05"/>
<line x1="292.3" y1="698.6" x2="292.3" y2="737.5" stroke="#333333" stroke-width="1.05"/>
<rect x="282.32" y="671.6" width="19.95" height="27" fill="#E76BF3" stroke="#333333" stroke-width="1.05"/>
<line x1="282.32" y1="682.9" x2="302.28" y2="682.9" stroke="#333333" stroke-width="2.1"/>
<line x1="292.3" y1="740.15" x2="292.3" y2="741.75" stroke="#333333" stroke-width="3.9" stroke-linecap="round"/>
<circle cx="292.3" cy="747.6" r="1.95" fill="#333333"/>
<line x1="314.27" y1="643.4" x2="314.27" y2="671.2" stroke="#333333" stroke-width="1.05" stroke-dasharray="1.5 1.9"/>
<line x1="314.27" y1="697.2" x2="314.27" y2="735.1" stroke="#333333" stroke-width="1.05" stroke-dasharray="1.5 1.9"/>
<rect x="304.3" y="671.2" width="19.95" height="26" fill="#E76BF3" stroke="#333333" stroke-width="1.05" stroke-dasharray="1.5 1.9"/>
<line x1="304.3" y1="682.9" x2="324.25" y2="682.9" stroke="#333333" stroke-width="2.1" stroke-dasharray="3.85 3.05"/>
<line x1="314.27" y1="737.85" x2="314.27" y2="742.55" stroke="#333333" stroke-width="3.9" stroke-linecap="round"/>
<line x1="409.45" y1="627.5" x2="409.45" y2="657.9" stroke="#333333" stroke-width="1.05"/>
<line x1="409.45" y1="685.5" x2="409.45" y2="725.3" stroke="#333333" stroke-width="1.05"/>
<rect x="399.47" y="657.9" width="19.95" height="27.6" fill="#F8766D" stroke="#333333" stroke-width="1.05"/>
<line x1="399.47" y1="669.9" x2="419.43" y2="669.9" stroke="#333333" stroke-width="2.1"/>
<line x1="409.45" y1="727.25" x2="409.45" y2="741.65" stroke="#333333" stroke-width="3.9" stroke-linecap="round"/>
<circle cx="409.45" cy="748" r="1.95" fill="#333333"/>
<line x1="431.43" y1="628.5" x2="431.43" y2="658.2" stroke="#333333" stroke-width="1.05" stroke-dasharray="1.5 1.9"/>
<line x1="431.43" y1="685.2" x2="431.43" y2="724.6" stroke="#333333" stroke-width="1.05" stroke-dasharray="1.5 1.9"/>
<rect x="421.45" y="658.2" width="19.95" height="27" fill="#F8766D" stroke="#333333" stroke-width="1.05" stroke-dasharray="1.5 1.9"/>
<line x1="421.45" y1="669.6" x2="441.4" y2="669.6" stroke="#333333" stroke-width="2.1" stroke-dasharray="3.85 3.05"/>
<line x1="431.43" y1="726.55" x2="431.43" y2="740.15" stroke="#333333" stroke-width="3.9" stroke-linecap="round"/>
<line x1="453.4" y1="627.8" x2="453.4" y2="657.4" stroke="#333333" stroke-width="1.05"/>
<line x1="453.4" y1="683" x2="453.4" y2="720.2" stroke="#333333" stroke-width="1.05"/>
<rect x="443.42" y="657.4" width="19.95" height="25.6" fill="#A3A500" stroke="#333333" stroke-width="1.05"/>
<line x1="443.42" y1="668.8" x2="463.38" y2="668.8" stroke="#333333" stroke-width="2.1"/>
<line x1="453.4" y1="722.15" x2="453.4" y2="743.05" stroke="#333333" stroke-width="3.9" stroke-linecap="round"/>
<line x1="475.38" y1="628.5" x2="475.38" y2="657.7" stroke="#333333" stroke-width="1.05" stroke-dasharray="1.5 1.9"/>
<line x1="475.38" y1="684.5" x2="475.38" y2="722.4" stroke="#333333" stroke-width="1.05" stroke-dasharray="1.5 1.9"/>
<rect x="465.4" y="657.7" width="19.95" height="26.8" fill="#A3A500" stroke="#333333" stroke-width="1.05" stroke-dasharray="1.5 1.9"/>
<line x1="465.4" y1="669.6" x2="485.35" y2="669.6" stroke="#333333" stroke-width="2.1" stroke-dasharray="3.85 3.05"/>
<line x1="475.38" y1="724.35" x2="475.38" y2="739.45" stroke="#333333" stroke-width="3.9" stroke-linecap="round"/>
<line x1="497.35" y1="627.8" x2="497.35" y2="657.7" stroke="#333333" stroke-width="1.05"/>
<line x1="497.35" y1="685.5" x2="497.35" y2="725.3" stroke="#333333" stroke-width="1.05"/>
<rect x="487.38" y="657.7" width="19.95" height="27.8" fill="#00BF7D" stroke="#333333" stroke-width="1.05"/>
<line x1="487.38" y1="669.6" x2="507.33" y2="669.6" stroke="#333333" stroke-width="2.1"/>
<line x1="497.35" y1="727.25" x2="497.35" y2="744.55" stroke="#333333" stroke-width="3.9" stroke-linecap="round"/>
<circle cx="497.35" cy="754.1" r="1.95" fill="#333333"/>
<line x1="519.33" y1="628.5" x2="519.33" y2="658.2" stroke="#333333" stroke-width="1.05" stroke-dasharray="1.5 1.9"/>
<line x1="519.33" y1="685.5" x2="519.33" y2="724.6" stroke="#333333" stroke-width="1.05" stroke-dasharray="1.5 1.9"/>
<rect x="509.35" y="658.2" width="19.95" height="27.3" fill="#00BF7D" stroke="#333333" stroke-width="1.05" stroke-dasharray="1.5 1.9"/>
<line x1="509.35" y1="669.6" x2="529.3" y2="669.6" stroke="#333333" stroke-width="2.1" stroke-dasharray="3.85 3.05"/>
<line x1="519.33" y1="726.55" x2="519.33" y2="741.65" stroke="#333333" stroke-width="3.9" stroke-linecap="round"/>
<line x1="541.3" y1="627.8" x2="541.3" y2="657.4" stroke="#333333" stroke-width="1.05"/>
<line x1="541.3" y1="684.5" x2="541.3" y2="722.4" stroke="#333333" stroke-width="1.05"/>
<rect x="531.32" y="657.4" width="19.95" height="27.1" fill="#00B0F6" stroke="#333333" stroke-width="1.05"/>
<line x1="531.32" y1="669.1" x2="551.27" y2="669.1" stroke="#333333" stroke-width="2.1"/>
<line x1="541.3" y1="724.35" x2="541.3" y2="738.75" stroke="#333333" stroke-width="3.9" stroke-linecap="round"/>
<circle cx="541.3" cy="744.6" r="1.95" fill="#333333"/>
<circle cx="541.3" cy="750.1" r="1.95" fill="#333333"/>
<line x1="563.27" y1="628.5" x2="563.27" y2="658.2" stroke="#333333" stroke-width="1.05" stroke-dasharray="1.5 1.9"/>
<line x1="563.27" y1="685.2" x2="563.27" y2="723.9" stroke="#333333" stroke-width="1.05" stroke-dasharray="1.5 1.9"/>
<rect x="553.3" y="658.2" width="19.95" height="27" fill="#00B0F6" stroke="#333333" stroke-width="1.05" stroke-dasharray="1.5 1.9"/>
<line x1="553.3" y1="669.6" x2="573.25" y2="669.6" stroke="#333333" stroke-width="2.1" stroke-dasharray="3.85 3.05"/>
<line x1="563.27" y1="725.85" x2="563.27" y2="738.75" stroke="#333333" stroke-width="3.9" stroke-linecap="round"/>
<line x1="585.25" y1="627.9" x2="585.25" y2="657.9" stroke="#333333" stroke-width="1.05"/>
<line x1="585.25" y1="685.5" x2="585.25" y2="724.9" stroke="#333333" stroke-width="1.05"/>
<rect x="575.27" y="657.9" width="19.95" height="27.6" fill="#E76BF3" stroke="#333333" stroke-width="1.05"/>
<line x1="575.27" y1="669.8" x2="595.23" y2="669.8" stroke="#333333" stroke-width="2.1"/>
<line x1="585.25" y1="726.85" x2="585.25" y2="744.45" stroke="#333333" stroke-width="3.9" stroke-linecap="round"/>
<line x1="607.23" y1="628.9" x2="607.23" y2="657.9" stroke="#333333" stroke-width="1.05" stroke-dasharray="1.5 1.9"/>
<line x1="607.23" y1="685.5" x2="607.23" y2="723.6" stroke="#333333" stroke-width="1.05" stroke-dasharray="1.5 1.9"/>
<rect x="597.25" y="657.9" width="19.95" height="27.6" fill="#E76BF3" stroke="#333333" stroke-width="1.05" stroke-dasharray="1.5 1.9"/>
<line x1="597.25" y1="669.8" x2="617.2" y2="669.8" stroke="#333333" stroke-width="2.1" stroke-dasharray="3.85 3.05"/>
<line x1="607.23" y1="725.55" x2="607.23" y2="741.25" stroke="#333333" stroke-width="3.9" stroke-linecap="round"/>
<line x1="36.9" y1="592.75" x2="39.55" y2="592.75" stroke="#333333" stroke-width="1.07"/>
<text x="35.6" y="598.15" text-anchor="end" font-family="Liberation Sans, sans-serif" font-size="14.4" fill="#4D4D4D">−2</text>
<line x1="36.9" y1="639.82" x2="39.55" y2="639.82" stroke="#333333" stroke-width="1.07"/>
<text x="35.6" y="645.22" text-anchor="end" font-family="Liberation Sans, sans-serif" font-size="14.4" fill="#4D4D4D">−4</text>
<line x1="36.9" y1="686.89" x2="39.55" y2="686.89" stroke="#333333" stroke-width="1.07"/>
<text x="35.6" y="692.29" text-anchor="end" font-family="Liberation Sans, sans-serif" font-size="14.4" fill="#4D4D4D">−6</text>
<line x1="36.9" y1="733.97" x2="39.55" y2="733.97" stroke="#333333" stroke-width="1.07"/>
<text x="35.6" y="739.37" text-anchor="end" font-family="Liberation Sans, sans-serif" font-size="14.4" fill="#4D4D4D">−8</text>
<line x1="215.39" y1="761.9" x2="215.39" y2="764.6" stroke="#333333" stroke-width="1.07"/>
<line x1="508.34" y1="761.9" x2="508.34" y2="764.6" stroke="#333333" stroke-width="1.07"/>
<g fill="#4D4D4D" font-family="Liberation Sans, sans-serif">
<text x="157.3" y="779.9" font-family="Liberation Serif, serif" font-size="17.2">(</text>
<text x="163.35" y="780.6" font-size="13.4">σ</text>
<text x="171.87" y="773.6" font-size="10.35">2</text>
<text x="171.97" y="784.9" font-size="10.35">geno.h</text>
<text x="203.19" y="780.4" font-size="14.4">,</text>
<text x="211.35" y="780.6" font-size="13.4">σ</text>
<text x="219.47" y="773.6" font-size="10.35">2</text>
<text x="219.97" y="784.9" font-size="10.35">plant.l</text>
<text x="247.09" y="780.4" font-size="14.4">,</text>
<text x="254.94" y="780.6" font-size="14.4">10</text>
<text x="271.47" y="779.9" font-family="Liberation Serif, serif" font-size="17.2">)</text>
</g>
<g fill="#4D4D4D" font-family="Liberation Sans, sans-serif">
<text x="454.6" y="779.9" font-family="Liberation Serif, serif" font-size="17.2">(</text>
<text x="460.65" y="780.6" font-size="13.4">σ</text>
<text x="469.17" y="773.6" font-size="10.35">2</text>
<text x="469.27" y="784.9" font-size="10.35">geno.h</text>
<text x="500.49" y="780.4" font-size="14.4">,</text>
<text x="508.65" y="780.6" font-size="13.4">σ</text>
<text x="516.77" y="773.6" font-size="10.35">2</text>
<text x="517.27" y="784.9" font-size="10.35">plant.l</text>
<text x="544.39" y="780.4" font-size="14.4">,</text>
<text x="552.06" y="780.6" font-size="14.4">3</text>
<text x="560.32" y="779.9" font-family="Liberation Serif, serif" font-size="17.2">)</text>
</g>
<text x="361.97" y="805.15" text-anchor="middle" font-family="Liberation Sans, sans-serif" font-size="17.9" fill="#000">Scenario</text>
<text transform="translate(13.1,672.45) rotate(-90)" x="0" y="0" text-anchor="middle" font-family="Liberation Sans, sans-serif" font-size="17.9" fill="#000">log(RISE)</text>
<g font-family="Liberation Sans, sans-serif" fill="#000">
<text x="39.6" y="839.8" font-size="18.2">(d) Plant level:</text>
<text x="160.55" y="839.8" font-size="18.2" font-style="italic">f</text>
<text x="168.45" y="843.4" font-size="12.7" font-style="italic">i</text>
<text x="178.12" y="839.8" font-size="18.2">vs.</text>
<text x="209.05" y="839.8" font-size="18.2" font-style="italic">f</text>
<text x="216.65" y="843.4" font-size="12.7" font-style="italic">i</text>
<polyline points="211.6,823.8 214.65,818 217.7,823.8" fill="none" stroke="#000" stroke-width="1.35"/>
</g>
<rect x="39.55" y="852.9" width="644.85" height="181.4" fill="#F2F2F2"/>
<line x1="39.55" y1="867.01" x2="684.4" y2="867.01" stroke="#fff" stroke-width="1.07"/>
<line x1="39.55" y1="894.99" x2="684.4" y2="894.99" stroke="#fff" stroke-width="1.07"/>
<line x1="39.55" y1="922.96" x2="684.4" y2="922.96" stroke="#fff" stroke-width="1.07"/>
<line x1="39.55" y1="950.92" x2="684.4" y2="950.92" stroke="#fff" stroke-width="1.07"/>
<line x1="39.55" y1="978.89" x2="684.4" y2="978.89" stroke="#fff" stroke-width="1.07"/>
<line x1="39.55" y1="1006.87" x2="684.4" y2="1006.87" stroke="#fff" stroke-width="1.07"/>
<line x1="39.55" y1="881" x2="684.4" y2="881" stroke="#fff" stroke-width="1.07"/>
<line x1="39.55" y1="908.97" x2="684.4" y2="908.97" stroke="#fff" stroke-width="1.07"/>
<line x1="39.55" y1="936.94" x2="684.4" y2="936.94" stroke="#fff" stroke-width="1.07"/>
<line x1="39.55" y1="964.91" x2="684.4" y2="964.91" stroke="#fff" stroke-width="1.07"/>
<line x1="39.55" y1="992.88" x2="684.4" y2="992.88" stroke="#fff" stroke-width="1.07"/>
<line x1="39.55" y1="1020.85" x2="684.4" y2="1020.85" stroke="#fff" stroke-width="1.07"/>
<line x1="215.39" y1="852.9" x2="215.39" y2="1034.3" stroke="#fff" stroke-width="1.07"/>
<line x1="508.34" y1="852.9" x2="508.34" y2="1034.3" stroke="#fff" stroke-width="1.07"/>
<line x1="116.5" y1="873.3" x2="116.5" y2="911.3" stroke="#333333" stroke-width="1.05"/>
<line x1="116.5" y1="938.4" x2="116.5" y2="978.3" stroke="#333333" stroke-width="1.05"/>
<rect x="106.53" y="911.3" width="19.95" height="27.1" fill="#F8766D" stroke="#333333" stroke-width="1.05"/>
<line x1="106.53" y1="924.1" x2="126.47" y2="924.1" stroke="#333333" stroke-width="2.1"/>
<line x1="116.5" y1="980.25" x2="116.5" y2="1011.15" stroke="#333333" stroke-width="3.9" stroke-linecap="round"/>
<circle cx="116.5" cy="1017.8" r="1.95" fill="#333333"/>
<line x1="138.47" y1="872.6" x2="138.47" y2="910.3" stroke="#333333" stroke-width="1.05" stroke-dasharray="1.5 1.9"/>
<line x1="138.47" y1="939.1" x2="138.47" y2="980.6" stroke="#333333" stroke-width="1.05" stroke-dasharray="1.5 1.9"/>
<rect x="128.5" y="910.3" width="19.95" height="28.8" fill="#F8766D" stroke="#333333" stroke-width="1.05" stroke-dasharray="1.5 1.9"/>
<line x1="128.5" y1="923.6" x2="148.45" y2="923.6" stroke="#333333" stroke-width="2.1" stroke-dasharray="3.85 3.05"/>
<line x1="138.47" y1="982.55" x2="138.47" y2="1000.05" stroke="#333333" stroke-width="3.9" stroke-linecap="round"/>
<circle cx="138.47" cy="1005.4" r="1.95" fill="#333333"/>
<circle cx="138.47" cy="1014.6" r="1.95" fill="#333333"/>
<line x1="160.45" y1="873.3" x2="160.45" y2="911.3" stroke="#333333" stroke-width="1.05"/>
<line x1="160.45" y1="938.1" x2="160.45" y2="976.9" stroke="#333333" stroke-width="1.05"/>
<rect x="150.47" y="911.3" width="19.95" height="26.8" fill="#A3A500" stroke="#333333" stroke-width="1.05"/>
<line x1="150.47" y1="923.9" x2="170.42" y2="923.9" stroke="#333333" stroke-width="2.1"/>
<line x1="160.45" y1="978.85" x2="160.45" y2="1003.05" stroke="#333333" stroke-width="3.9" stroke-linecap="round"/>
<line x1="182.43" y1="872.6" x2="182.43" y2="910" stroke="#333333" stroke-width="1.05" stroke-dasharray="1.5 1.9"/>
<line x1="182.43" y1="938.4" x2="182.43" y2="980.6" stroke="#333333" stroke-width="1.05" stroke-dasharray="1.5 1.9"/>
<rect x="172.45" y="910" width="19.95" height="28.4" fill="#A3A500" stroke="#333333" stroke-width="1.05" stroke-dasharray="1.5 1.9"/>
<line x1="172.45" y1="923.2" x2="192.4" y2="923.2" stroke="#333333" stroke-width="2.1" stroke-dasharray="3.85 3.05"/>
<line x1="182.43" y1="982.55" x2="182.43" y2="1005.95" stroke="#333333" stroke-width="3.9" stroke-linecap="round"/>
<circle cx="182.43" cy="1017.1" r="1.95" fill="#333333"/>
<line x1="204.4" y1="873.3" x2="204.4" y2="911.3" stroke="#333333" stroke-width="1.05"/>
<line x1="204.4" y1="938.4" x2="204.4" y2="977.6" stroke="#333333" stroke-width="1.05"/>
<rect x="194.43" y="911.3" width="19.95" height="27.1" fill="#00BF7D" stroke="#333333" stroke-width="1.05"/>
<line x1="194.43" y1="924.1" x2="214.38" y2="924.1" stroke="#333333" stroke-width="2.1"/>
<line x1="204.4" y1="979.55" x2="204.4" y2="1003.05" stroke="#333333" stroke-width="3.9" stroke-linecap="round"/>
<circle cx="204.4" cy="1009.1" r="1.95" fill="#333333"/>
<line x1="226.38" y1="873.3" x2="226.38" y2="910" stroke="#333333" stroke-width="1.05" stroke-dasharray="1.5 1.9"/>
<line x1="226.38" y1="938.7" x2="226.38" y2="981" stroke="#333333" stroke-width="1.05" stroke-dasharray="1.5 1.9"/>
<rect x="216.4" y="910" width="19.95" height="28.7" fill="#00BF7D" stroke="#333333" stroke-width="1.05" stroke-dasharray="1.5 1.9"/>
<line x1="216.4" y1="923.3" x2="236.35" y2="923.3" stroke="#333333" stroke-width="2.1" stroke-dasharray="3.85 3.05"/>
<line x1="226.38" y1="982.95" x2="226.38" y2="1006.75" stroke="#333333" stroke-width="3.9" stroke-linecap="round"/>
<circle cx="226.38" cy="1024.6" r="1.95" fill="#333333"/>
<line x1="248.35" y1="873.3" x2="248.35" y2="911.3" stroke="#333333" stroke-width="1.05"/>
<line x1="248.35" y1="939.1" x2="248.35" y2="979.5" stroke="#333333" stroke-width="1.05"/>
<rect x="238.38" y="911.3" width="19.95" height="27.8" fill="#00B0F6" stroke="#333333" stroke-width="1.05"/>
<line x1="238.38" y1="924.3" x2="258.33" y2="924.3" stroke="#333333" stroke-width="2.1"/>
<line x1="248.35" y1="981.45" x2="248.35" y2="1007.75" stroke="#333333" stroke-width="3.9" stroke-linecap="round"/>
<line x1="270.33" y1="874" x2="270.33" y2="910" stroke="#333333" stroke-width="1.05" stroke-dasharray="1.5 1.9"/>
<line x1="270.33" y1="939.1" x2="270.33" y2="982" stroke="#333333" stroke-width="1.05" stroke-dasharray="1.5 1.9"/>
<rect x="260.35" y="910" width="19.95" height="29.1" fill="#00B0F6" stroke="#333333" stroke-width="1.05" stroke-dasharray="1.5 1.9"/>
<line x1="260.35" y1="923.6" x2="280.3" y2="923.6" stroke="#333333" stroke-width="2.1" stroke-dasharray="3.85 3.05"/>
<line x1="270.33" y1="983.95" x2="270.33" y2="1009.65" stroke="#333333" stroke-width="3.9" stroke-linecap="round"/>
<circle cx="270.33" cy="1026" r="1.95" fill="#333333"/>
<line x1="292.3" y1="873.3" x2="292.3" y2="911.3" stroke="#333333" stroke-width="1.05"/>
<line x1="292.3" y1="938.4" x2="292.3" y2="977.6" stroke="#333333" stroke-width="1.05"/>
<rect x="282.32" y="911.3" width="19.95" height="27.1" fill="#E76BF3" stroke="#333333" stroke-width="1.05"/>
<line x1="282.32" y1="924.1" x2="302.28" y2="924.1" stroke="#333333" stroke-width="2.1"/>
<line x1="292.3" y1="979.55" x2="292.3" y2="1008.95" stroke="#333333" stroke-width="3.9" stroke-linecap="round"/>
<line x1="314.27" y1="868.9" x2="314.27" y2="908.1" stroke="#333333" stroke-width="1.05" stroke-dasharray="1.5 1.9"/>
<line x1="314.27" y1="937.7" x2="314.27" y2="979.5" stroke="#333333" stroke-width="1.05" stroke-dasharray="1.5 1.9"/>
<rect x="304.3" y="908.1" width="19.95" height="29.6" fill="#E76BF3" stroke="#333333" stroke-width="1.05" stroke-dasharray="1.5 1.9"/>
<line x1="304.3" y1="921.8" x2="324.25" y2="921.8" stroke="#333333" stroke-width="2.1" stroke-dasharray="3.85 3.05"/>
<line x1="314.27" y1="981.45" x2="314.27" y2="1012.65" stroke="#333333" stroke-width="3.9" stroke-linecap="round"/>
<circle cx="314.27" cy="1020.9" r="1.95" fill="#333333"/>
<line x1="409.45" y1="864.2" x2="409.45" y2="900.4" stroke="#333333" stroke-width="1.05"/>
<line x1="409.45" y1="932.5" x2="409.45" y2="979.1" stroke="#333333" stroke-width="1.05"/>
<rect x="399.47" y="900.4" width="19.95" height="32.1" fill="#F8766D" stroke="#333333" stroke-width="1.05"/>
<line x1="399.47" y1="915" x2="419.43" y2="915" stroke="#333333" stroke-width="2.1"/>
<line x1="409.45" y1="981.05" x2="409.45" y2="1002.25" stroke="#333333" stroke-width="3.9" stroke-linecap="round"/>
<circle cx="409.45" cy="1011.2" r="1.95" fill="#333333"/>
<line x1="431.43" y1="864.2" x2="431.43" y2="900.4" stroke="#333333" stroke-width="1.05" stroke-dasharray="1.5 1.9"/>
<line x1="431.43" y1="932.5" x2="431.43" y2="980.6" stroke="#333333" stroke-width="1.05" stroke-dasharray="1.5 1.9"/>
<rect x="421.45" y="900.4" width="19.95" height="32.1" fill="#F8766D" stroke="#333333" stroke-width="1.05" stroke-dasharray="1.5 1.9"/>
<line x1="421.45" y1="914.7" x2="441.4" y2="914.7" stroke="#333333" stroke-width="2.1" stroke-dasharray="3.85 3.05"/>
<line x1="431.43" y1="982.55" x2="431.43" y2="1000.85" stroke="#333333" stroke-width="3.9" stroke-linecap="round"/>
<circle cx="431.43" cy="1010.9" r="1.95" fill="#333333"/>
<line x1="453.4" y1="864.2" x2="453.4" y2="900.4" stroke="#333333" stroke-width="1.05"/>
<line x1="453.4" y1="930.3" x2="453.4" y2="973.9" stroke="#333333" stroke-width="1.05"/>
<rect x="443.42" y="900.4" width="19.95" height="29.9" fill="#A3A500" stroke="#333333" stroke-width="1.05"/>
<line x1="443.42" y1="914" x2="463.38" y2="914" stroke="#333333" stroke-width="2.1"/>
<line x1="453.4" y1="975.85" x2="453.4" y2="1003.75" stroke="#333333" stroke-width="3.9" stroke-linecap="round"/>
<line x1="475.38" y1="864.2" x2="475.38" y2="899.6" stroke="#333333" stroke-width="1.05" stroke-dasharray="1.5 1.9"/>
<line x1="475.38" y1="932" x2="475.38" y2="978.3" stroke="#333333" stroke-width="1.05" stroke-dasharray="1.5 1.9"/>
<rect x="465.4" y="899.6" width="19.95" height="32.4" fill="#A3A500" stroke="#333333" stroke-width="1.05" stroke-dasharray="1.5 1.9"/>
<line x1="465.4" y1="914" x2="485.35" y2="914" stroke="#333333" stroke-width="2.1" stroke-dasharray="3.85 3.05"/>
<line x1="475.38" y1="980.25" x2="475.38" y2="1005.25" stroke="#333333" stroke-width="3.9" stroke-linecap="round"/>
<circle cx="475.38" cy="1010.1" r="1.95" fill="#333333"/>
<line x1="497.35" y1="864.2" x2="497.35" y2="900.4" stroke="#333333" stroke-width="1.05"/>
<line x1="497.35" y1="932.3" x2="497.35" y2="978.5" stroke="#333333" stroke-width="1.05"/>
<rect x="487.38" y="900.4" width="19.95" height="31.9" fill="#00BF7D" stroke="#333333" stroke-width="1.05"/>
<line x1="487.38" y1="914.7" x2="507.33" y2="914.7" stroke="#333333" stroke-width="2.1"/>
<line x1="497.35" y1="980.45" x2="497.35" y2="1003.35" stroke="#333333" stroke-width="3.9" stroke-linecap="round"/>
<line x1="519.33" y1="864.2" x2="519.33" y2="900" stroke="#333333" stroke-width="1.05" stroke-dasharray="1.5 1.9"/>
<line x1="519.33" y1="932.6" x2="519.33" y2="980.7" stroke="#333333" stroke-width="1.05" stroke-dasharray="1.5 1.9"/>
<rect x="509.35" y="900" width="19.95" height="32.6" fill="#00BF7D" stroke="#333333" stroke-width="1.05" stroke-dasharray="1.5 1.9"/>
<line x1="509.35" y1="914.3" x2="529.3" y2="914.3" stroke="#333333" stroke-width="2.1" stroke-dasharray="3.85 3.05"/>
<line x1="519.33" y1="982.65" x2="519.33" y2="1004.35" stroke="#333333" stroke-width="3.9" stroke-linecap="round"/>
<circle cx="519.33" cy="1014" r="1.95" fill="#333333"/>
<line x1="541.3" y1="864.2" x2="541.3" y2="900.4" stroke="#333333" stroke-width="1.05"/>
<line x1="541.3" y1="931.4" x2="541.3" y2="977.1" stroke="#333333" stroke-width="1.05"/>
<rect x="531.32" y="900.4" width="19.95" height="31" fill="#00B0F6" stroke="#333333" stroke-width="1.05"/>
<line x1="531.32" y1="914.6" x2="551.27" y2="914.6" stroke="#333333" stroke-width="2.1"/>
<line x1="541.3" y1="979.05" x2="541.3" y2="1006.55" stroke="#333333" stroke-width="3.9" stroke-linecap="round"/>
<circle cx="541.3" cy="1011.1" r="1.95" fill="#333333"/>
<line x1="563.27" y1="864.2" x2="563.27" y2="900" stroke="#333333" stroke-width="1.05" stroke-dasharray="1.5 1.9"/>
<line x1="563.27" y1="933" x2="563.27" y2="981" stroke="#333333" stroke-width="1.05" stroke-dasharray="1.5 1.9"/>
<rect x="553.3" y="900" width="19.95" height="33" fill="#00B0F6" stroke="#333333" stroke-width="1.05" stroke-dasharray="1.5 1.9"/>
<line x1="553.3" y1="914.3" x2="573.25" y2="914.3" stroke="#333333" stroke-width="2.1" stroke-dasharray="3.85 3.05"/>
<line x1="563.27" y1="982.95" x2="563.27" y2="1005.35" stroke="#333333" stroke-width="3.9" stroke-linecap="round"/>
<line x1="585.25" y1="864.2" x2="585.25" y2="900.5" stroke="#333333" stroke-width="1.05"/>
<line x1="585.25" y1="932.5" x2="585.25" y2="978.6" stroke="#333333" stroke-width="1.05"/>
<rect x="575.27" y="900.5" width="19.95" height="32" fill="#E76BF3" stroke="#333333" stroke-width="1.05"/>
<line x1="575.27" y1="914.6" x2="595.23" y2="914.6" stroke="#333333" stroke-width="2.1"/>
<line x1="585.25" y1="980.55" x2="585.25" y2="1004.65" stroke="#333333" stroke-width="3.9" stroke-linecap="round"/>
<line x1="607.23" y1="860.8" x2="607.23" y2="899.3" stroke="#333333" stroke-width="1.05" stroke-dasharray="1.5 1.9"/>
<line x1="607.23" y1="932" x2="607.23" y2="979.9" stroke="#333333" stroke-width="1.05" stroke-dasharray="1.5 1.9"/>
<rect x="597.25" y="899.3" width="19.95" height="32.7" fill="#E76BF3" stroke="#333333" stroke-width="1.05" stroke-dasharray="1.5 1.9"/>
<line x1="597.25" y1="913.7" x2="617.2" y2="913.7" stroke="#333333" stroke-width="2.1" stroke-dasharray="3.85 3.05"/>
<line x1="607.23" y1="981.85" x2="607.23" y2="1006.65" stroke="#333333" stroke-width="3.9" stroke-linecap="round"/>
<circle cx="607.23" cy="1013.8" r="1.95" fill="#333333"/>
<line x1="36.9" y1="881" x2="39.55" y2="881" stroke="#333333" stroke-width="1.07"/>
<text x="35.6" y="886.4" text-anchor="end" font-family="Liberation Sans, sans-serif" font-size="14.4" fill="#4D4D4D">−4</text>
<line x1="36.9" y1="908.97" x2="39.55" y2="908.97" stroke="#333333" stroke-width="1.07"/>
<text x="35.6" y="914.37" text-anchor="end" font-family="Liberation Sans, sans-serif" font-size="14.4" fill="#4D4D4D">−5</text>
<line x1="36.9" y1="936.94" x2="39.55" y2="936.94" stroke="#333333" stroke-width="1.07"/>
<text x="35.6" y="942.34" text-anchor="end" font-family="Liberation Sans, sans-serif" font-size="14.4" fill="#4D4D4D">−6</text>
<line x1="36.9" y1="964.91" x2="39.55" y2="964.91" stroke="#333333" stroke-width="1.07"/>
<text x="35.6" y="970.31" text-anchor="end" font-family="Liberation Sans, sans-serif" font-size="14.4" fill="#4D4D4D">−7</text>
<line x1="36.9" y1="992.88" x2="39.55" y2="992.88" stroke="#333333" stroke-width="1.07"/>
<text x="35.6" y="998.28" text-anchor="end" font-family="Liberation Sans, sans-serif" font-size="14.4" fill="#4D4D4D">−8</text>
<line x1="36.9" y1="1020.85" x2="39.55" y2="1020.85" stroke="#333333" stroke-width="1.07"/>
<text x="35.6" y="1026.25" text-anchor="end" font-family="Liberation Sans, sans-serif" font-size="14.4" fill="#4D4D4D">−9</text>
<line x1="215.39" y1="1034.3" x2="215.39" y2="1037" stroke="#333333" stroke-width="1.07"/>
<line x1="508.34" y1="1034.3" x2="508.34" y2="1037" stroke="#333333" stroke-width="1.07"/>
<g fill="#4D4D4D" font-family="Liberation Sans, sans-serif">
<text x="157.3" y="1052.3" font-family="Liberation Serif, serif" font-size="17.2">(</text>
<text x="163.35" y="1053" font-size="13.4">σ</text>
<text x="171.87" y="1046" font-size="10.35">2</text>
<text x="171.97" y="1057.3" font-size="10.35">geno.h</text>
<text x="203.19" y="1052.8" font-size="14.4">,</text>
<text x="211.35" y="1053" font-size="13.4">σ</text>
<text x="219.47" y="1046" font-size="10.35">2</text>
<text x="219.97" y="1057.3" font-size="10.35">plant.l</text>
<text x="247.09" y="1052.8" font-size="14.4">,</text>
<text x="254.94" y="1053" font-size="14.4">10</text>
<text x="271.47" y="1052.3" font-family="Liberation Serif, serif" font-size="17.2">)</text>
</g>
<g fill="#4D4D4D" font-family="Liberation Sans, sans-serif">
<text x="454.6" y="1052.3" font-family="Liberation Serif, serif" font-size="17.2">(</text>
<text x="460.65" y="1053" font-size="13.4">σ</text>
<text x="469.17" y="1046" font-size="10.35">2</text>
<text x="469.27" y="1057.3" font-size="10.35">geno.h</text>
<text x="500.49" y="1052.8" font-size="14.4">,</text>
<text x="508.65" y="1053" font-size="13.4">σ</text>
<text x="516.77" y="1046" font-size="10.35">2</text>
<text x="517.27" y="1057.3" font-size="10.35">plant.l</text>
<text x="544.39" y="1052.8" font-size="14.4">,</text>
<text x="552.06" y="1053" font-size="14.4">3</text>
<text x="560.32" y="1052.3" font-family="Liberation Serif, serif" font-size="17.2">)</text>
</g>
<text x="361.97" y="1077.55" text-anchor="middle" font-family="Liberation Sans, sans-serif" font-size="17.9" fill="#000">Scenario</text>
<text transform="translate(13.1,943.6) rotate(-90)" x="0" y="0" text-anchor="middle" font-family="Liberation Sans, sans-serif" font-size="17.9" fill="#000">log(RISE)</text>
<g font-family="Liberation Sans, sans-serif" fill="#000">
<text x="59.53" y="1105.0" font-size="17.8">(</text>
<text x="70.03" y="1105.0" font-size="17.8">b</text>
<text x="79.95" y="1108.6" font-size="12.5">pop</text>
<text x="104.1" y="1105.0" font-size="17.8">,</text>
<text x="113.33" y="1105.0" font-size="17.8">b</text>
<text x="123.4" y="1108.6" font-size="12.5">gen</text>
<text x="148" y="1105.0" font-size="17.8">,</text>
<text x="157.13" y="1105.0" font-size="17.8">b</text>
<text x="166.55" y="1108.6" font-size="12.5">plant</text>
<text x="198.52" y="1105.0" font-size="17.8">)</text>
<line x1="219.45" y1="1092" x2="219.45" y2="1105.5" stroke="#333333" stroke-width="1.05"/><rect x="214.55" y="1094.7" width="9.8" height="7.5" fill="#F8766D" stroke="#333333" stroke-width="1.05"/><line x1="214.55" y1="1098.6" x2="224.35" y2="1098.6" stroke="#333333" stroke-width="1.6"/>
<text x="235.03" y="1105.0" font-size="17.8">(13,13,13)</text>
<line x1="331.3" y1="1092" x2="331.3" y2="1105.5" stroke="#333333" stroke-width="1.05"/><rect x="326.4" y="1094.7" width="9.8" height="7.5" fill="#A3A500" stroke="#333333" stroke-width="1.05"/><line x1="326.4" y1="1098.6" x2="336.2" y2="1098.6" stroke="#333333" stroke-width="1.6"/>
<text x="346.73" y="1105.0" font-size="17.8">(13,13,8)</text>
<line x1="433.4" y1="1092" x2="433.4" y2="1105.5" stroke="#333333" stroke-width="1.05"/><rect x="428.5" y="1094.7" width="9.8" height="7.5" fill="#00BF7D" stroke="#333333" stroke-width="1.05"/><line x1="428.5" y1="1098.6" x2="438.3" y2="1098.6" stroke="#333333" stroke-width="1.6"/>
<text x="448.73" y="1105.0" font-size="17.8">(13,8,8)</text>
<line x1="525.9" y1="1092" x2="525.9" y2="1105.5" stroke="#333333" stroke-width="1.05"/><rect x="521" y="1094.7" width="9.8" height="7.5" fill="#00B0F6" stroke="#333333" stroke-width="1.05"/><line x1="521" y1="1098.6" x2="530.8" y2="1098.6" stroke="#333333" stroke-width="1.6"/>
<text x="540.53" y="1105.0" font-size="17.8">(13,9,7)</text>
<line x1="617.8" y1="1092" x2="617.8" y2="1105.5" stroke="#333333" stroke-width="1.05"/><rect x="612.9" y="1094.7" width="9.8" height="7.5" fill="#E76BF3" stroke="#333333" stroke-width="1.05"/><line x1="612.9" y1="1098.6" x2="622.7" y2="1098.6" stroke="#333333" stroke-width="1.6"/>
<text x="633.13" y="1105.0" font-size="17.8">(8,8,8)</text>
<text x="401.78" y="1144.9" font-size="17.8">Model</text>
<line x1="466.15" y1="1132.1" x2="466.15" y2="1145.7" stroke="#6E6E6E" stroke-width="1.05"/><rect x="460.9" y="1134.7" width="10.5" height="8.6" fill="#fff" stroke="#6E6E6E" stroke-width="1.05"/><line x1="460.9" y1="1139" x2="471.4" y2="1139" stroke="#6E6E6E" stroke-width="1.9"/>
<text x="481.51" y="1144.9" font-size="17.8">One−stage</text>
<line x1="584.3" y1="1132.6" x2="584.3" y2="1145.6" stroke="#444444" stroke-width="1.05" stroke-dasharray="1.5 1.9"/><rect x="579.2" y="1134.9" width="10.2" height="8.2" fill="#fff" stroke="#444444" stroke-width="1.05" stroke-dasharray="1.5 1.9"/><line x1="579.2" y1="1138.8" x2="589.4" y2="1138.8" stroke="#444444" stroke-width="1.3" stroke-dasharray="1.5 1.9"/>
<text x="600.24" y="1144.9" font-size="17.8" textLength="84.35" lengthAdjust="spacingAndGlyphs">Two−stage</text>
</g>
</svg>
</body></html>
